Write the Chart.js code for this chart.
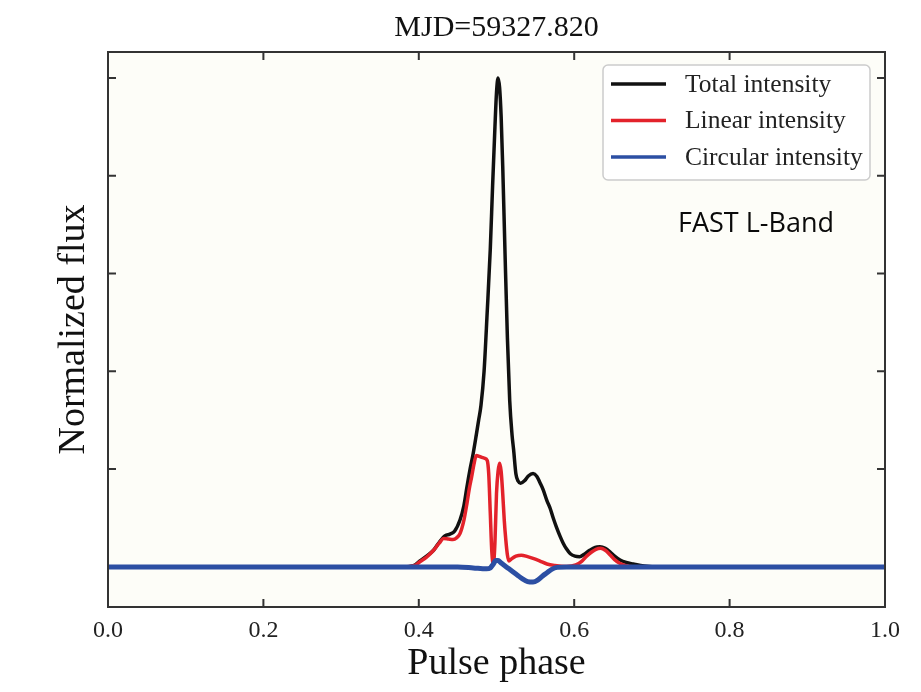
<!DOCTYPE html>
<html>
<head>
<meta charset="utf-8">
<title>MJD=59327.820</title>
<script src="https://cdn.jsdelivr.net/npm/chart.js@4.4.1/dist/chart.umd.min.js"></script>
<style>
  html, body { margin: 0; padding: 0; background: #fff; }
  #wrap { width: 921px; height: 692px; }
</style>
</head>
<body>
<div id="wrap"><canvas id="profile" width="921" height="692"></canvas></div>
<script>
// Pulse profile (phase, normalized flux)
const totalPhase = [0.0, 0.1, 0.2, 0.3, 0.38, 0.395, 0.401, 0.41, 0.419, 0.427, 0.434, 0.44, 0.446, 0.453, 0.458, 0.462, 0.466, 0.47, 0.474, 0.477, 0.48, 0.484, 0.488, 0.492, 0.495, 0.498, 0.5, 0.502, 0.504, 0.506, 0.508, 0.511, 0.514, 0.517, 0.52, 0.522, 0.525, 0.528, 0.531, 0.536, 0.541, 0.547, 0.552, 0.556, 0.56, 0.565, 0.569, 0.573, 0.577, 0.582, 0.586, 0.59, 0.595, 0.601, 0.607, 0.613, 0.62, 0.627, 0.633, 0.64, 0.646, 0.652, 0.659, 0.667, 0.676, 0.69, 0.71, 0.8, 0.9, 1.0];
const totalFlux = [0, 0, 0, 0, 0, 0.004, 0.012, 0.022, 0.034, 0.052, 0.064, 0.067, 0.073, 0.096, 0.125, 0.164, 0.2, 0.232, 0.27, 0.3, 0.33, 0.4, 0.52, 0.65, 0.78, 0.9, 0.97, 1.0, 0.98, 0.92, 0.82, 0.64, 0.47, 0.34, 0.27, 0.24, 0.19, 0.175, 0.171, 0.176, 0.186, 0.191, 0.185, 0.172, 0.158, 0.135, 0.12, 0.1, 0.082, 0.062, 0.048, 0.037, 0.027, 0.022, 0.021, 0.026, 0.034, 0.04, 0.041, 0.038, 0.031, 0.022, 0.014, 0.009, 0.006, 0.002, 0, 0, 0, 0];

const linearPhase = [0.0, 0.1, 0.2, 0.3, 0.38, 0.395, 0.401, 0.41, 0.419, 0.426, 0.432, 0.438, 0.444, 0.449, 0.453, 0.458, 0.462, 0.465, 0.468, 0.471, 0.474, 0.478, 0.481, 0.485, 0.488, 0.49, 0.492, 0.494, 0.496, 0.498, 0.5, 0.502, 0.504, 0.506, 0.508, 0.51, 0.512, 0.514, 0.516, 0.519, 0.525, 0.532, 0.54, 0.548, 0.556, 0.565, 0.575, 0.59, 0.602, 0.61, 0.616, 0.622, 0.628, 0.634, 0.64, 0.646, 0.652, 0.659, 0.668, 0.685, 0.8, 0.9, 1.0];
const linearFlux = [0, 0, 0, 0, 0, 0.003, 0.01, 0.02, 0.034, 0.048, 0.058, 0.057, 0.056, 0.06, 0.068, 0.095, 0.13, 0.16, 0.184, 0.21, 0.228, 0.226, 0.224, 0.222, 0.218, 0.19, 0.11, 0.03, 0.006, 0.05, 0.15, 0.195, 0.212, 0.195, 0.15, 0.095, 0.055, 0.025, 0.012, 0.016, 0.022, 0.024, 0.021, 0.017, 0.012, 0.006, 0.003, 0.001, 0.004, 0.012, 0.022, 0.03, 0.036, 0.038, 0.034, 0.025, 0.015, 0.007, 0.002, 0, 0, 0, 0];

const circularPhase = [0.0, 0.1, 0.2, 0.3, 0.4, 0.45, 0.47, 0.487, 0.492, 0.496, 0.499, 0.502, 0.506, 0.511, 0.516, 0.521, 0.527, 0.533, 0.54, 0.547, 0.553, 0.559, 0.565, 0.571, 0.578, 0.59, 0.7, 0.8, 0.9, 1.0];
const circularFlux = [0, 0, 0, 0, 0, 0, -0.002, -0.004, -0.002, 0.006, 0.013, 0.013, 0.008, 0.002, -0.004, -0.01, -0.017, -0.024, -0.03, -0.031, -0.027, -0.019, -0.012, -0.005, -0.001, 0, 0, 0, 0, 0];

const seriesNames = ['Total intensity', 'Linear intensity', 'Circular intensity'];
const seriesColors = ['#111111', '#e3222b', '#2c4fa3'];
const xTickValues = [0, 0.2, 0.4, 0.6, 0.8, 1.0];
const yTickValues = [0.2, 0.4, 0.6, 0.8, 1.0];

const serif = "'Liberation Serif', 'Times New Roman', serif";

function pairs(xs, ys) {
  return xs.map((x, i) => ({ x: x, y: ys[i] }));
}

// plot background, title, frame with inward ticks, legend box and band label
const framePlugin = {
  id: 'frame',
  beforeDraw(chart) {
    const ctx = chart.ctx, a = chart.chartArea;
    ctx.save();
    ctx.fillStyle = '#ffffff';
    ctx.fillRect(0, 0, chart.width, chart.height);
    ctx.fillStyle = '#fdfdf8';
    ctx.fillRect(a.left, a.top, a.right - a.left, a.bottom - a.top);
    ctx.fillStyle = '#111111';
    ctx.font = '30px ' + serif;
    ctx.textAlign = 'center';
    ctx.textBaseline = 'middle';
    ctx.fillText('MJD=59327.820', (a.left + a.right) / 2, 28);
    ctx.restore();
  },
  afterDatasetsDraw(chart) {
    const ctx = chart.ctx, a = chart.chartArea;
    const xs = chart.scales.x, ys = chart.scales.y;
    const len = 8;
    ctx.save();
    ctx.strokeStyle = '#333333';
    ctx.lineWidth = 2;
    ctx.strokeRect(a.left, a.top, a.right - a.left, a.bottom - a.top);
    ctx.beginPath();
    xs.ticks.forEach(t => {
      const px = xs.getPixelForValue(t.value);
      ctx.moveTo(px, a.bottom); ctx.lineTo(px, a.bottom - len);
      ctx.moveTo(px, a.top); ctx.lineTo(px, a.top + len);
    });
    ys.ticks.forEach(t => {
      const py = ys.getPixelForValue(t.value);
      ctx.moveTo(a.left, py); ctx.lineTo(a.left + len, py);
      ctx.moveTo(a.right, py); ctx.lineTo(a.right - len, py);
    });
    ctx.stroke();

    // legend
    const bx = a.right - 282, by = a.top + 13, bw = 267, bh = 115;
    ctx.fillStyle = '#ffffff';
    ctx.strokeStyle = '#cccccc';
    ctx.lineWidth = 1.5;
    ctx.beginPath();
    ctx.roundRect(bx, by, bw, bh, 5);
    ctx.fill();
    ctx.stroke();
    ctx.font = '25.5px ' + serif;
    ctx.textBaseline = 'middle';
    ctx.textAlign = 'left';
    chart.data.datasets.forEach((ds, i) => {
      const ry = by + 19 + i * 36.5;
      ctx.strokeStyle = ds.borderColor;
      ctx.lineWidth = 3.5;
      ctx.beginPath();
      ctx.moveTo(bx + 8, ry);
      ctx.lineTo(bx + 63, ry);
      ctx.stroke();
      ctx.fillStyle = '#222222';
      ctx.fillText(ds.label, bx + 82, ry + 1);
    });

    ctx.fillStyle = '#0a0a0a';
    ctx.font = "27px 'Open Sans', sans-serif";
    ctx.textBaseline = 'alphabetic';
    ctx.fillText('FAST L-Band', a.left + 570, a.top + 180);
    ctx.restore();
  }
};

const ctx = document.getElementById('profile').getContext('2d');
const profileChart = new Chart(ctx, {
  type: 'line',
  data: {
    datasets: [
      { label: seriesNames[0], data: pairs(totalPhase, totalFlux), borderColor: seriesColors[0], borderWidth: 3.5, order: 3 },
      { label: seriesNames[1], data: pairs(linearPhase, linearFlux), borderColor: seriesColors[1], borderWidth: 3.5, order: 2 },
      { label: seriesNames[2], data: pairs(circularPhase, circularFlux), borderColor: seriesColors[2], borderWidth: 5, order: 1 }
    ]
  },
  options: {
    responsive: false,
    animation: false,
    devicePixelRatio: 1,
    parsing: false,
    elements: {
      point: { radius: 0 },
      line: { cubicInterpolationMode: 'monotone', fill: false, borderCapStyle: 'round', borderJoinStyle: 'round' }
    },
    layout: { padding: { left: 0, right: 36, top: 52, bottom: 0 } },
    plugins: {
      legend: { display: false },
      tooltip: { enabled: false },
      title: { display: false }
    },
    scales: {
      x: {
        type: 'linear',
        min: 0,
        max: 1,
        grid: { display: false, drawTicks: false },
        border: { display: false },
        afterBuildTicks: s => { s.ticks = xTickValues.map(v => ({ value: v })); },
        afterFit: s => { s.height = 85; },
        ticks: {
          color: '#222222',
          padding: 9,
          maxRotation: 0,
          font: { family: serif, size: 24 },
          callback: v => Number(v).toFixed(1)
        },
        title: {
          display: true,
          text: 'Pulse phase',
          color: '#111111',
          font: { family: serif, size: 38 },
          padding: { top: 0, bottom: 5 }
        }
      },
      y: {
        type: 'linear',
        min: -0.082,
        max: 1.053,
        grid: { display: false, drawTicks: false },
        border: { display: false },
        afterBuildTicks: s => { s.ticks = yTickValues.map(v => ({ value: v })); },
        afterFit: s => { s.width = 108; },
        ticks: { display: false },
        title: {
          display: true,
          text: 'Normalized flux',
          color: '#111111',
          font: { family: serif, size: 38 },
          padding: { top: 51, bottom: 0 }
        }
      }
    }
  },
  plugins: [framePlugin]
});
</script>
</body>
</html>
